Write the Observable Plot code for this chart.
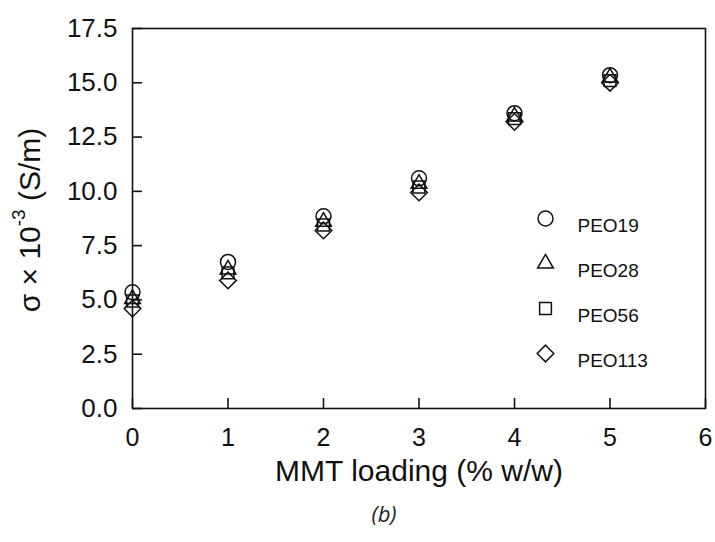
<!DOCTYPE html>
<html><head><meta charset="utf-8">
<script src="https://cdn.jsdelivr.net/npm/d3@7"></script>
<script src="https://cdn.jsdelivr.net/npm/@observablehq/plot@0.6"></script>
<style>
body{margin:0;background:#fff;}
#chart{width:715px;height:495px;}
#cap{position:relative;width:715px;height:47px;}
#cap span{position:absolute;left:384px;top:3px;transform:translateX(-50%);font:italic 22px "Open Sans",sans-serif;color:#222;}
</style>
</head><body>
<div id="chart"></div>
<div id="cap"><span>(b)</span></div>
<script>
const loading = [0, 1, 2, 3, 4, 5];
const series = ["PEO19", "PEO28", "PEO56", "PEO113"];
const symbols = ["circle", "triangle2", "square2", "diamond2"];
const peo19 = [5.35, 6.75, 8.85, 10.6, 13.6, 15.35];
const peo28 = [5.05, 6.4, 8.6, 10.35, 13.45, 15.25];
const peo56 = [4.95, 6.25, 8.45, 10.2, 13.35, 15.1];
const peo113 = [4.6, 5.9, 8.2, 9.95, 13.2, 15.0];
const xTicks = [0, 1, 2, 3, 4, 5, 6];
const yTicks = [0, 2.5, 5, 7.5, 10, 12.5, 15, 17.5];
const xLabel = "MMT loading (% w/w)";

const values = [peo19, peo28, peo56, peo113];
const rows = series.flatMap((s, i) => loading.map((x, j) => ({series: s, x, y: values[i][j]})));

const legendMarks = series.flatMap((s, i) => [
  Plot.dot([s], {frameAnchor: "top-left", dx: 413, dy: 190 + 45 * i, symbol: d => d, r: 7.5, stroke: "#111", strokeWidth: 1.5, fill: "none"}),
  Plot.text([s], {frameAnchor: "top-left", dx: 445, dy: 190 + 45 * i, text: d => d, textAnchor: "start", fontSize: 19, fill: "#111"})
]);

const chart = Plot.plot({
  width: 715, height: 495,
  marginLeft: 132, marginRight: 10, marginTop: 28, marginBottom: 87,
  style: {fontFamily: "'Liberation Sans', Arial, sans-serif", color: "#111", background: "#fff"},
  x: {domain: [0, 6]},
  y: {domain: [0, 17.5]},
  symbol: {domain: series, range: symbols},
  marks: [
    Plot.axisX({ticks: xTicks, tickSize: -10, tickFormat: () => "", label: null, strokeWidth: 1.6}),
    Plot.axisX({ticks: xTicks, tickSize: 0, tickPadding: 20, fontSize: 25, tickFormat: d => String(d), label: xLabel, labelAnchor: "center", labelArrow: "none", labelOffset: 72}),
    Plot.axisY({ticks: yTicks, tickSize: -10, tickFormat: () => "", label: null, strokeWidth: 1.6}),
    Plot.axisY({ticks: yTicks, tickSize: 0, tickPadding: 15, fontSize: 26, tickFormat: d3.format(".1f"), label: null}),
    Plot.frame({stroke: "#111", strokeWidth: 1.6}),
    Plot.dot(rows, {x: "x", y: "y", symbol: "series", r: 7.5, stroke: "#111", strokeWidth: 1.5, fill: "none"}),
    ...legendMarks
  ]
});

// bigger x-axis title font
d3.select(chart).selectAll("[aria-label='x-axis label'] text").attr("font-size", 30);

// y-axis title with superscript
const t = d3.select(chart).append("text")
  .attr("transform", "translate(32,220) rotate(-90)")
  .attr("text-anchor", "middle")
  .attr("dominant-baseline", "middle")
  .attr("font-size", 30)
  .attr("fill", "#111");
t.append("tspan").text("σ × 10");
t.append("tspan").attr("dy", -12).attr("font-size", 19).text("-3");
t.append("tspan").attr("dy", 12).text(" (S/m)");

document.getElementById("chart").appendChild(chart);
</script>
</body></html>
